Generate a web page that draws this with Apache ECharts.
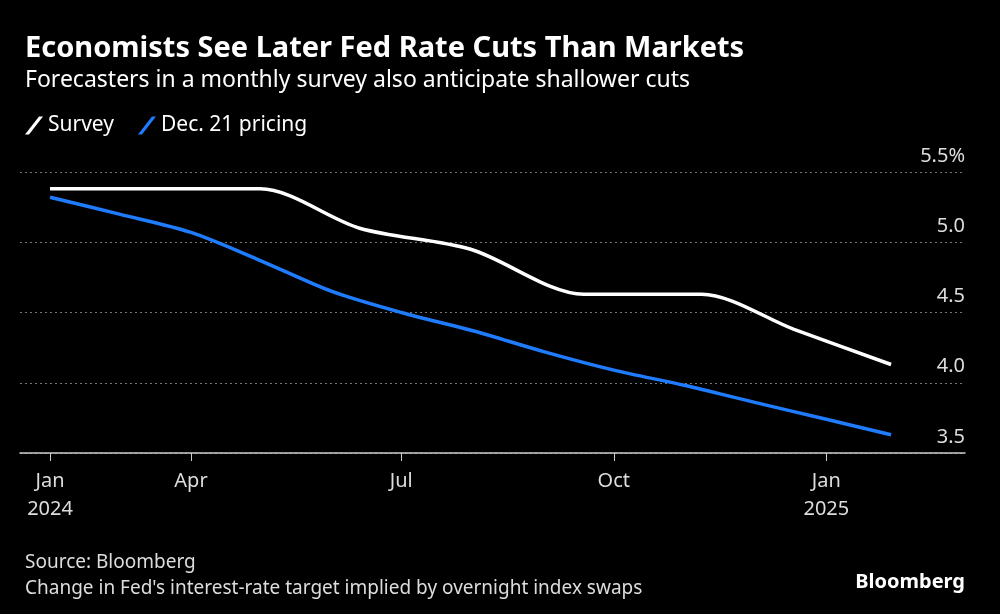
<!DOCTYPE html>
<html><head><meta charset="utf-8">
<script src="https://cdn.jsdelivr.net/npm/echarts@6/dist/echarts.min.js"></script>
<style>html,body{margin:0;background:#000}#c{width:1000px;height:614px}</style>
</head><body><div id="c"></div>
<script>
// x values are days since 2024-01-01
var surveyDays = [30, 79, 121, 164, 212, 261, 290, 312, 352, 394];
var surveyVals = [5.38, 5.38, 5.38, 5.10, 4.95, 4.63, 4.63, 4.63, 4.38, 4.13];
var pricingDays = [30, 60, 91, 121, 152, 182, 213, 244, 274, 305, 335, 366, 394];
var pricingVals = [5.32, 5.20, 5.07, 4.87, 4.65, 4.50, 4.37, 4.22, 4.09, 3.98, 3.86, 3.74, 3.63];
var tickDays = [30, 91, 182, 274, 366];
var tickLabels = ['Jan\n2024', 'Apr', 'Jul', 'Oct', 'Jan\n2025'];

function pairs(xs, ys) { return xs.map(function (x, i) { return [x, ys[i]]; }); }
var font = 'Noto Sans';
var chart = echarts.init(document.getElementById('c'));
chart.setOption({
    backgroundColor: '#000',
    textStyle: { fontFamily: font },
    title: [
        { text: 'Economists See Later Fed Rate Cuts Than Markets', left: 20, top: 29,
          textStyle: { color: '#fff', fontSize: 29, fontWeight: 'bold', fontFamily: font } },
        { text: 'Forecasters in a monthly survey also anticipate shallower cuts', left: 20, top: 64,
          textStyle: { color: '#fff', fontSize: 23, fontWeight: 'normal', fontFamily: font } },
        { text: 'Source: Bloomberg\nChange in Fed\'s interest-rate target implied by overnight index swaps', left: 20, top: 545,
          textStyle: { color: '#ddd', fontSize: 19, fontWeight: 'normal', lineHeight: 26, fontFamily: font } },
        { text: 'Bloomberg', right: 30, top: 567,
          textStyle: { color: '#fff', fontSize: 20, fontWeight: 'bold', fontFamily: font } }
    ],
    legend: {
        left: 20, top: 110, itemWidth: 18, itemHeight: 18, itemGap: 24,
        icon: 'path://M0,18 L4,18 L18,0 L14,0 Z',
        textStyle: { color: '#fff', fontSize: 21, fontFamily: font },
        data: ['Survey', 'Dec. 21 pricing']
    },
    grid: { left: 20, right: 35, top: 172, bottom: 161 },
    xAxis: {
        type: 'value', min: 17, max: 426,
        splitLine: { show: false },
        axisLine: { show: true, lineStyle: { color: '#ccc', width: 1.5 } },
        axisTick: { show: true, customValues: tickDays, length: 8, lineStyle: { color: '#ccc' } },
        axisLabel: { customValues: tickDays, color: '#ddd', fontSize: 20, lineHeight: 28, margin: 14,
            formatter: function (v) { return tickLabels[tickDays.indexOf(v)]; } }
    },
    yAxis: {
        type: 'value', position: 'right', min: 3.5, max: 5.5, interval: 0.5,
        axisLine: { show: false }, axisTick: { show: false },
        splitLine: { lineStyle: { color: '#777', type: [2, 3] } },
        axisLabel: { inside: true, color: '#ddd', fontSize: 20, verticalAlign: 'bottom', margin: 0,
            padding: [0, 0, 6, 0],
            formatter: function (v) { return v === 5.5 ? '5.5%' : v.toFixed(1); } }
    },
    series: [
        { name: 'Survey', type: 'line', data: pairs(surveyDays, surveyVals), smooth: 0.3,
          showSymbol: false, color: '#fff', lineStyle: { width: 3.5, color: '#fff' } },
        { name: 'Dec. 21 pricing', type: 'line', data: pairs(pricingDays, pricingVals), smooth: 0.3,
          showSymbol: false, color: '#1f7cff', lineStyle: { width: 3.5, color: '#1f7cff' } }
    ]
});
</script></body></html>
